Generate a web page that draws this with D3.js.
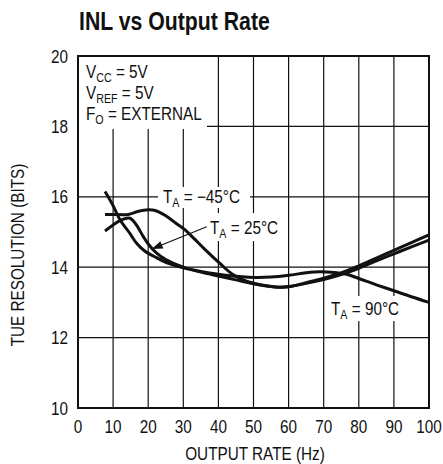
<!DOCTYPE html>
<html><head><meta charset="utf-8">
<script src="https://cdn.jsdelivr.net/npm/d3@7"></script>
<style>
html,body{margin:0;padding:0;background:#fff;}
text{font-family:"Liberation Sans",Arial,sans-serif;fill:#111;}
</style></head>
<body><svg id="c" width="443" height="464"></svg>
<script>
const xTicks = [0,10,20,30,40,50,60,70,80,90,100];
const yTicks = [10,12,14,16,18,20];

const curve90 = [[7.7,16.15],[10,15.75],[12,15.34],[14.5,15.0],[16.7,14.68],[19,14.46],[22.4,14.27],[26,14.1],[30,13.98],[35,13.88],[40,13.8],[45,13.74],[50,13.71],[55,13.72],[60,13.77],[65,13.84],[69,13.87],[73,13.85],[76.5,13.8],[80,13.68],[85,13.5],[90,13.33],[95,13.16],[100,13.0]];
const curve25 = [[7.7,15.03],[10,15.2],[12.5,15.35],[14.8,15.39],[16.5,15.22],[18.6,14.87],[20,14.66],[22.4,14.4],[25,14.22],[30,14.0],[35,13.86],[40,13.75],[45,13.64],[50,13.53],[55,13.45],[57.5,13.43],[60,13.45],[65,13.54],[70,13.65],[75,13.79],[80,13.97],[85,14.18],[90,14.38],[95,14.58],[100,14.77]];
const curveM45 = [[7.7,15.5],[10,15.5],[14.3,15.5],[17,15.58],[20,15.63],[22,15.61],[25,15.46],[28,15.24],[30.5,15.06],[33,14.82],[36,14.52],[40.5,14.1],[44,13.8],[48,13.6],[52,13.5],[56,13.44],[58,13.43],[61,13.46],[65,13.56],[70,13.69],[75,13.84],[80,14.04],[85,14.26],[90,14.48],[95,14.7],[100,14.92]];

const SX = 0.85;
const svg = d3.select("#c");
const x = d3.scaleLinear().domain([0,100]).range([78,429]);
const y = d3.scaleLinear().domain([10,20]).range([408,56]);

function txt(xp,yp,s,fs,anchor,weight,rot){
  return svg.append("text")
    .attr("transform",`translate(${xp},${yp})${rot?" rotate(-90)":""} scale(${SX},1)`)
    .attr("font-size",fs).attr("text-anchor",anchor||"start").attr("font-weight",weight||"normal").text(s);
}

// title
txt(79,30,"INL vs Output Rate",25,"start","bold");

// grid
const g = svg.append("g");
g.selectAll("line.v").data(xTicks.slice(1,-1)).join("line")
  .attr("x1",d=>x(d)).attr("x2",d=>x(d)).attr("y1",y(20)).attr("y2",y(10))
  .attr("stroke","#111").attr("stroke-width",1.2);
g.selectAll("line.h").data(yTicks.slice(1,-1)).join("line")
  .attr("y1",d=>y(d)).attr("y2",d=>y(d)).attr("x1",x(0)).attr("x2",x(100))
  .attr("stroke","#111").attr("stroke-width",1.2);

// white label boxes
const boxes = [[79,57,128,72],[158,187,92,21],[206,213,82,28],[327,296,82,25]];
svg.selectAll("rect.box").data(boxes).join("rect")
  .attr("x",d=>d[0]).attr("y",d=>d[1]).attr("width",d=>d[2]).attr("height",d=>d[3]).attr("fill","#fff");

// frame
svg.append("rect").attr("x",x(0)).attr("y",y(20)).attr("width",x(100)-x(0)).attr("height",y(10)-y(20))
  .attr("fill","none").attr("stroke","#111").attr("stroke-width",2);

// axes labels
xTicks.forEach(d=>txt(x(d),433,String(d),18,"middle"));
yTicks.forEach(d=>txt(68,y(d)+6.5,String(d),18,"end"));
txt(255,460,"OUTPUT RATE (Hz)",18,"middle");
txt(24,255,"TUE RESOLUTION (BITS)",18,"middle","normal",true);

// curves
const line = d3.line().x(d=>x(d[0])).y(d=>y(d[1])).curve(d3.curveCatmullRom.alpha(0.5));
[curve90,curve25,curveM45].forEach(c=>{
  svg.append("path").attr("d",line(c)).attr("fill","none").attr("stroke","#111").attr("stroke-width",3).attr("stroke-linejoin","round");
});

// text with subscripts
function label(xp,yp,main,sub,rest,fs){
  const t = svg.append("text").attr("transform",`translate(${xp},${yp}) scale(${SX},1)`).attr("font-size",fs);
  t.append("tspan").text(main);
  t.append("tspan").attr("font-size",fs*0.7).attr("dy",3.5).text(sub);
  t.append("tspan").attr("dy",-3.5).text(rest);
}
label(86,78,"V","CC"," = 5V",18);
label(86,99,"V","REF"," = 5V",18);
label(86,120,"F","O"," = EXTERNAL",18);
label(163,203,"T","A"," = −45°C",18);
label(210,234,"T","A"," = 25°C",18);
label(331,315,"T","A"," = 90°C",18);

// arrow
const ax0=206.7, ay0=226.7, ax1=151.7, ay1=249;
svg.append("line").attr("x1",ax0).attr("y1",ay0).attr("x2",ax1+8).attr("y2",ay1-3.3).attr("stroke","#111").attr("stroke-width",1.2);
const ang = Math.atan2(ay1-ay0, ax1-ax0);
const L=11, W=4;
const bx = ax1 - L*Math.cos(ang), by = ay1 - L*Math.sin(ang);
svg.append("path").attr("d",`M${ax1},${ay1}L${bx - W*Math.sin(ang)},${by + W*Math.cos(ang)}L${bx + W*Math.sin(ang)},${by - W*Math.cos(ang)}Z`).attr("fill","#111");
</script></body></html>
